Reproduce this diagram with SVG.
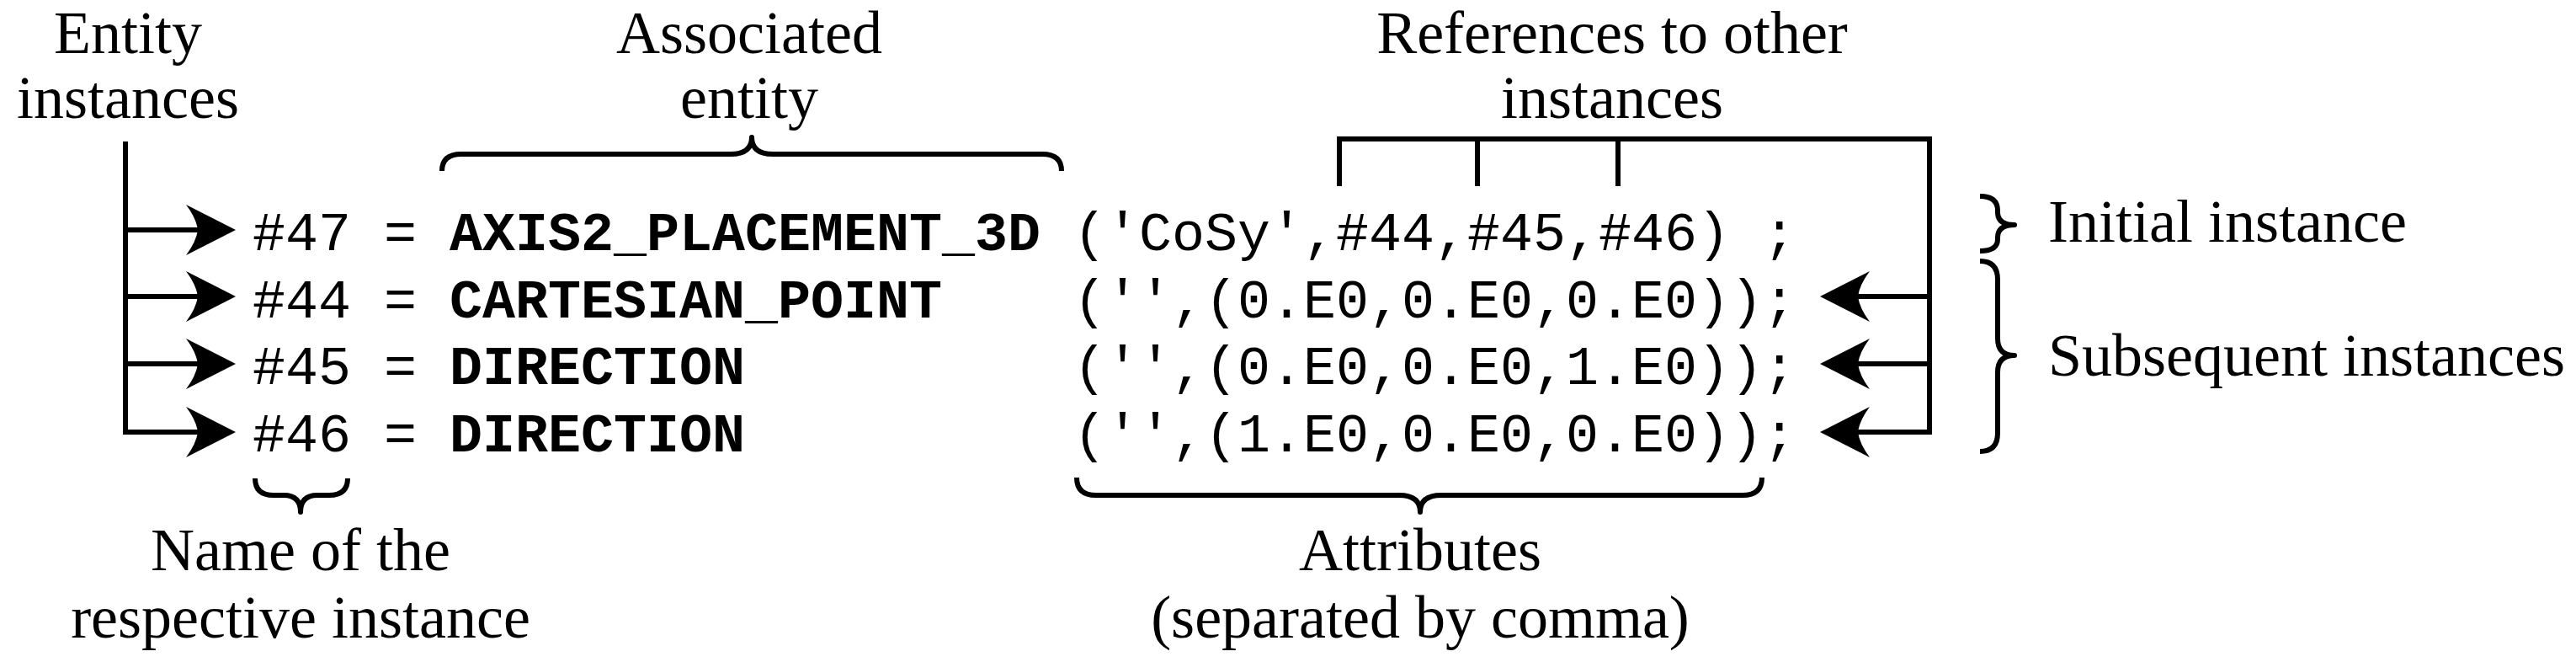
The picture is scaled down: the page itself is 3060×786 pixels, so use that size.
<svg xmlns="http://www.w3.org/2000/svg" width="3060" height="786" viewBox="0 0 3060 786">
  <style>
    .lbl { font-family: "Liberation Serif", "Times New Roman", serif; font-size: 72px; fill: #000; }
    .mid { text-anchor: middle; }
    .code { font-family: "Liberation Mono", "Courier New", monospace; font-size: 65px; fill: #000; }
    .name { font-weight: bold; }
    .ln { fill: none; stroke: #000; stroke-width: 6; stroke-linejoin: miter; stroke-linecap: butt; }
    .br { fill: none; stroke: #000; stroke-width: 6; stroke-linejoin: round; stroke-linecap: butt; }
  </style>
  <defs>
    <marker id="ah" viewBox="0 0 60 60" refX="14" refY="30" markerUnits="userSpaceOnUse" markerWidth="60" markerHeight="60" orient="auto">
      <path d="M59,30 L0,0 Q12,16 14,30 Q12,44 0,60 Z" fill="#000"/>
    </marker>
  </defs>
  <rect width="3060" height="786" fill="#fff"/>

  <g id="connectors">
    <path class="ln" d="M149,168 L149,513 L235,513" marker-end="url(#ah)"/>
    <line class="ln" x1="146" y1="273" x2="235" y2="273" marker-end="url(#ah)"/>
    <line class="ln" x1="146" y1="352" x2="235" y2="352" marker-end="url(#ah)"/>
    <line class="ln" x1="146" y1="432" x2="235" y2="432" marker-end="url(#ah)"/>
    <path class="ln" d="M1591,221 L1591,165 L2292,165 L2292,513 L2207,513" marker-end="url(#ah)"/>
    <line class="ln" x1="1755" y1="165" x2="1755" y2="221"/>
    <line class="ln" x1="1922" y1="165" x2="1922" y2="221"/>
    <line class="ln" x1="2295" y1="352" x2="2207" y2="352" marker-end="url(#ah)"/>
    <line class="ln" x1="2295" y1="432" x2="2207" y2="432" marker-end="url(#ah)"/>
  </g>

  <g id="entity-instances">
    <text class="lbl mid" x="152" y="63">Entity</text>
    <text class="lbl mid" x="152" y="140">instances</text>
  </g>

  <g id="associated-entity">
    <text class="lbl mid" x="890" y="63">Associated</text>
    <text class="lbl mid" x="890" y="140">entity</text>
    <path class="br" d="M525,203 Q525,183 548,183 L868,183 Q893,183 893,163 Q893,183 918,183 L1238,183 Q1261,183 1261,203"/>
  </g>

  <g id="references">
    <text class="lbl mid" x="1915" y="63">References to other</text>
    <text class="lbl mid" x="1915" y="140">instances</text>
  </g>

  <g id="row-47">
    <text class="code" x="300" y="297">#47 =</text>
    <text class="code name" x="534" y="297">AXIS2_PLACEMENT_3D</text>
    <text class="code" x="1275" y="297">('CoSy',#44,#45,#46) ;</text>
  </g>
  <g id="row-44">
    <text class="code" x="300" y="377">#44 =</text>
    <text class="code name" x="534" y="377">CARTESIAN_POINT</text>
    <text class="code" x="1275" y="377">('',(0.E0,0.E0,0.E0));</text>
  </g>
  <g id="row-45">
    <text class="code" x="300" y="456">#45 =</text>
    <text class="code name" x="534" y="456">DIRECTION</text>
    <text class="code" x="1275" y="456">('',(0.E0,0.E0,1.E0));</text>
  </g>
  <g id="row-46">
    <text class="code" x="300" y="536">#46 =</text>
    <text class="code name" x="534" y="536">DIRECTION</text>
    <text class="code" x="1275" y="536">('',(1.E0,0.E0,0.E0));</text>
  </g>

  <g id="initial-instance">
    <path class="br" d="M2352,233 Q2373,233 2373,250 L2373,252 Q2373,267 2393,267 Q2373,267 2373,282 L2373,284 Q2373,298 2352,298"/>
    <text class="lbl" x="2433" y="287">Initial instance</text>
  </g>

  <g id="subsequent-instances">
    <path class="br" d="M2352,310 Q2373,310 2373,332 L2373,402 Q2373,422 2393,422 Q2373,422 2373,442 L2373,514 Q2373,536 2352,536"/>
    <text class="lbl" x="2433" y="446">Subsequent instances</text>
  </g>

  <g id="instance-name">
    <path class="br" d="M303,568 Q303,588 325,588 L337,588 Q357,588 357,608 Q357,588 377,588 L391,588 Q413,588 413,568"/>
    <text class="lbl mid" x="357" y="677">Name of the</text>
    <text class="lbl mid" x="357" y="757">respective instance</text>
  </g>

  <g id="attributes">
    <path class="br" d="M1279,567 Q1279,588 1302,588 L1662,588 Q1687,588 1687,608 Q1687,588 1712,588 L2070,588 Q2093,588 2093,567"/>
    <text class="lbl mid" x="1687" y="677">Attributes</text>
    <text class="lbl mid" x="1687" y="757">(separated by comma)</text>
  </g>
</svg>
